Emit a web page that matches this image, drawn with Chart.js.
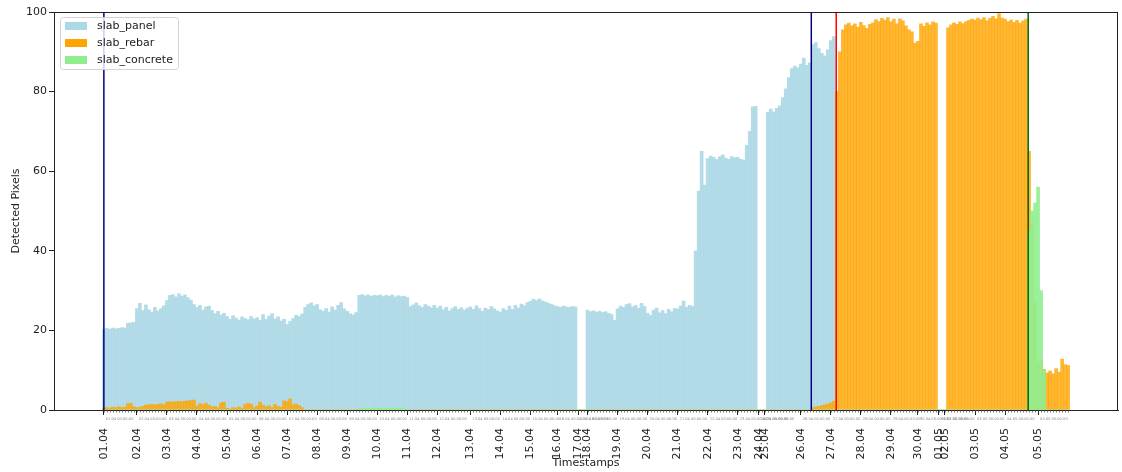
<!DOCTYPE html>
<html>
<head>
<meta charset="utf-8">
<script src="https://cdn.jsdelivr.net/npm/chart.js@4.4.1/dist/chart.umd.min.js"></script>
<style>
  html, body { margin: 0; padding: 0; background: #fff; }
  canvas { display: block; }
</style>
</head>
<body>
<canvas id="slab-chart" width="1122" height="472"></canvas>
<script>
// one label per day, and how many timestamps fall on that day
const dayLabels = ['01.04', '02.04', '03.04', '04.04', '05.04', '06.04', '07.04', '08.04', '09.04', '10.04',
  '11.04', '12.04', '13.04', '14.04', '15.04', '16.04', '17.04', '18.04', '19.04', '20.04',
  '21.04', '22.04', '23.04', '24.04', '25.04', '26.04', '27.04', '28.04', '29.04', '30.04',
  '01.05', '02.05', '03.05', '04.05', '05.05'];
const dayCounts = [11, 10, 10, 10, 10, 10, 10, 10, 10, 10,
  10, 11, 10, 10, 9, 7, 3, 10, 10, 10,
  10, 10, 7, 2, 12, 10, 10, 10, 9, 7,
  2, 10, 10, 11, 11];

// detected pixels per timestamp
const slabPanel = [
  20.2, 20.5, 20.3, 20.6, 20.4, 20.5, 20.7, 20.6, 21.8, 21.9, 22.0,   // 01.04
  25.5, 26.8, 25.0, 26.4, 25.2, 24.6, 25.8, 24.9, 25.5, 26.2,         // 02.04
  27.5, 28.8, 29.0, 28.4, 29.2, 28.6, 28.9, 28.2, 27.6, 26.5,         // 03.04
  25.8, 26.3, 25.1, 25.9, 26.1, 25.0, 24.2, 24.8, 23.9, 24.3,         // 04.04
  23.5, 22.8, 23.7, 23.1, 22.6, 23.4, 23.0, 22.7, 23.5, 22.9,         // 05.04
  23.2, 22.5, 24.0, 22.8, 23.6, 24.2, 22.9, 23.4, 22.4, 22.8,         // 06.04
  21.5, 22.3, 23.0, 23.8, 23.5, 24.1, 25.8, 26.5, 26.9, 26.2,         // 07.04
  26.5, 25.2, 24.8, 25.5, 24.6, 25.9, 25.1, 26.3, 27.0, 25.4,         // 08.04
  24.8, 24.2, 23.9, 24.5, 28.8, 29.0, 28.7, 28.9, 28.6, 28.8,         // 09.04
  28.7, 28.9, 28.5, 28.8, 28.6, 28.9, 28.4, 28.7, 28.5, 28.6,         // 10.04
  28.3, 26.0, 26.4, 26.9, 26.2, 25.8, 26.5, 26.1, 25.7, 26.3,         // 11.04
  25.6, 26.1, 25.2, 25.8, 24.9, 25.5, 26.0, 25.3, 25.7, 25.1, 25.6,   // 12.04
  25.9, 25.3, 26.2, 25.5, 24.8, 25.6, 25.2, 26.0, 25.4, 24.9,         // 13.04
  24.6, 25.5, 25.0, 26.1, 25.3, 26.3, 25.6, 26.6, 26.2, 27.0,         // 14.04
  27.3, 27.8, 27.5, 27.9, 27.4, 27.1, 26.8, 26.5, 26.2,               // 15.04
  26.0, 25.8, 26.1, 25.9, 25.8, 26.0, 25.9,                           // 16.04
  0, 0, 0,                                                            // 17.04
  25.1, 24.7, 24.9, 24.6, 24.8, 24.5, 24.7, 24.3, 24.0, 22.5,         // 18.04
  25.4, 26.1, 25.8, 26.5, 26.7, 25.9, 26.3, 25.6, 26.8, 26.0,         // 19.04
  24.3, 23.8, 25.1, 25.6, 24.4, 25.0, 24.2, 25.3, 24.7, 25.5,         // 20.04
  25.4, 26.1, 27.4, 25.8, 26.3, 26.0, 40.0, 55.0, 65.0, 56.5,         // 21.04
  63.2, 63.8, 63.5, 62.9, 63.6, 64.1, 63.3, 63.0, 63.7, 63.4,         // 22.04
  63.5, 63.0, 62.8, 66.5, 70.0, 76.2, 76.3,                           // 23.04
  0, 0,                                                               // 24.04
  0, 74.8, 75.6, 74.9, 75.8, 76.4, 78.5, 80.7, 83.5, 85.8, 86.4, 86.0, // 25.04
  86.9, 88.4, 86.6, 87.2, 91.8, 92.3, 90.8, 89.6, 89.0, 90.5,         // 26.04
  92.8, 93.8, 0, 0, 0, 0, 0, 0, 0, 0,                                 // 27.04
  0, 0, 0, 0, 0, 0, 0, 0, 0, 0,                                       // 28.04
  0, 0, 0, 0, 0, 0, 0, 0, 0,                                          // 29.04
  0, 0, 0, 0, 0, 0, 0,                                                // 30.04
  0, 0,                                                               // 01.05
  0, 0, 0, 0, 0, 0, 0, 0, 0, 0,                                       // 02.05
  0, 0, 0, 0, 0, 0, 0, 0, 0, 0,                                       // 03.05
  0, 0, 0, 0, 0, 0, 0, 0, 0, 0, 0,                                    // 04.05
  0, 0, 0, 0, 0, 0, 0, 0, 0, 0, 0                                     // 05.05
];

const slabRebar = [
  0.5, 0.6, 0.5, 0.7, 0.6, 0.8, 0.6, 0.7, 1.6, 1.7, 0.8,              // 01.04
  0.6, 0.7, 0.9, 1.2, 1.3, 1.4, 1.3, 1.4, 1.5, 1.3,                   // 02.04
  2.0, 2.1, 2.0, 2.1, 2.2, 2.1, 2.2, 2.3, 2.4, 2.5,                   // 03.04
  1.0, 1.6, 1.4, 1.7, 1.2, 0.8, 0.9, 0.6, 1.8, 2.0,                   // 04.04
  0.4, 0.3, 0.6, 0.5, 0.8, 0.4, 1.4, 1.7, 1.5, 0.6,                   // 05.04
  1.0, 2.0, 1.2, 0.8, 1.1, 0.6, 1.4, 0.9, 0.7, 2.3,                   // 06.04
  2.1, 2.8, 1.3, 1.5, 1.1, 0.6, 0, 0, 0, 0,                           // 07.04
  0, 0, 0, 0, 0, 0, 0, 0, 0, 0,                                       // 08.04
  0, 0, 0, 0, 0, 0, 0, 0, 0, 0,                                       // 09.04
  0, 0, 0, 0, 0, 0, 0, 0, 0, 0,                                       // 10.04
  0, 0, 0, 0, 0, 0, 0, 0, 0, 0,                                       // 11.04
  0, 0, 0, 0, 0, 0, 0, 0, 0, 0, 0,                                    // 12.04
  0, 0, 0, 0, 0, 0, 0, 0, 0, 0,                                       // 13.04
  0, 0, 0, 0, 0, 0, 0, 0, 0, 0,                                       // 14.04
  0, 0, 0, 0, 0, 0, 0, 0, 0,                                          // 15.04
  0, 0, 0, 0, 0, 0, 0,                                                // 16.04
  0, 0, 0,                                                            // 17.04
  0, 0, 0, 0, 0, 0, 0, 0, 0, 0,                                       // 18.04
  0, 0, 0, 0, 0, 0, 0, 0, 0, 0,                                       // 19.04
  0, 0, 0, 0, 0, 0, 0, 0, 0, 0,                                       // 20.04
  0, 0, 0, 0, 0, 0, 0, 0, 0, 0,                                       // 21.04
  0, 0, 0, 0, 0, 0, 0, 0, 0, 0,                                       // 22.04
  0, 0, 0, 0, 0, 0, 0,                                                // 23.04
  0, 0,                                                               // 24.04
  0, 0, 0, 0, 0, 0, 0, 0, 0, 0, 0, 0,                                 // 25.04
  0, 0, 0, 0, 0.6, 0.8, 0.9, 1.1, 1.3, 1.5,                           // 26.04
  1.8, 2.2, 80.0, 90.0, 95.5, 96.8, 97.2, 96.5, 97.0, 96.2,           // 27.04
  97.4, 96.6, 95.9, 96.9, 97.3, 98.1, 97.6, 98.4, 98.0, 98.6,         // 28.04
  97.5, 98.2, 97.0, 98.3, 97.8, 96.5, 95.5, 95.0, 92.2,               // 29.04
  92.6, 97.0, 96.4, 97.3, 96.8, 97.5, 97.2,                           // 30.04
  0, 0,                                                               // 01.05
  0, 96.0, 96.8, 97.3, 96.9, 97.5, 97.1, 97.6, 97.9, 98.2,            // 02.05
  98.0, 98.5, 98.1, 98.6, 97.8, 98.4, 98.9, 98.3, 99.6, 98.5,         // 03.05
  98.2, 97.6, 98.0, 97.4, 97.9, 97.2, 97.8, 98.2, 65.0, 47.0, 27.0,   // 04.05
  12.0, 12.5, 10.2, 9.3, 9.8, 9.1, 10.4, 9.5, 12.8, 11.4, 11.2        // 05.05
];

const slabConcrete = [
  0, 0, 0, 0, 0, 0, 0, 0, 0, 0, 0,                                    // 01.04
  0, 0, 0, 0, 0, 0, 0, 0, 0, 0,                                       // 02.04
  0, 0, 0, 0, 0, 0, 0, 0, 0, 0,                                       // 03.04
  0, 0, 0, 0, 0, 0, 0, 0, 0, 0,                                       // 04.04
  0, 0, 0, 0, 0, 0, 0, 0, 0, 0,                                       // 05.04
  0, 0, 0, 0, 0, 0, 0, 0, 0, 0,                                       // 06.04
  0, 0, 0, 0, 0, 0, 0, 0, 0, 0,                                       // 07.04
  0, 0, 0, 0, 0, 0, 0, 0, 0, 0,                                       // 08.04
  0, 0, 0, 0, 0.4, 0.4, 0.5, 0.4, 0.4, 0.5,                           // 09.04
  0.5, 0.4, 0.5, 0.4, 0.5, 0.4, 0.5, 0.5, 0.4, 0.3,                   // 10.04
  0, 0, 0, 0, 0, 0, 0, 0, 0, 0,                                       // 11.04
  0, 0, 0, 0, 0, 0, 0, 0, 0, 0, 0,                                    // 12.04
  0, 0, 0, 0, 0, 0, 0, 0, 0, 0,                                       // 13.04
  0, 0, 0, 0, 0, 0, 0, 0, 0, 0,                                       // 14.04
  0, 0, 0, 0, 0, 0, 0, 0, 0,                                          // 15.04
  0, 0, 0, 0, 0, 0, 0,                                                // 16.04
  0, 0, 0,                                                            // 17.04
  0, 0, 0, 0, 0, 0, 0, 0, 0, 0,                                       // 18.04
  0, 0, 0, 0, 0, 0, 0, 0, 0, 0,                                       // 19.04
  0, 0, 0, 0, 0, 0, 0, 0, 0, 0,                                       // 20.04
  0, 0, 0, 0, 0, 0, 0, 0, 0, 0,                                       // 21.04
  0, 0, 0, 0, 0, 0, 0, 0, 0, 0,                                       // 22.04
  0, 0, 0, 0, 0, 0, 0,                                                // 23.04
  0, 0,                                                               // 24.04
  0, 0, 0, 0, 0, 0, 0, 0, 0, 0, 0, 0,                                 // 25.04
  0, 0, 0, 0, 0, 0, 0, 0, 0, 0,                                       // 26.04
  0, 0, 0, 0, 0, 0, 0, 0, 0, 0,                                       // 27.04
  0, 0, 0, 0, 0, 0, 0, 0, 0, 0,                                       // 28.04
  0, 0, 0, 0, 0, 0, 0, 0, 0,                                          // 29.04
  0, 0, 0, 0, 0, 0, 0,                                                // 30.04
  0, 0,                                                               // 01.05
  0, 0, 0, 0, 0, 0, 0, 0, 0, 0,                                       // 02.05
  0, 0, 0, 0, 0, 0, 0, 0, 0, 0,                                       // 03.05
  0, 0, 0, 0, 0, 0, 0, 0, 45.0, 50.0, 52.0,                           // 04.05
  56.0, 30.0, 10.0, 0, 0, 0, 0, 0, 0, 0, 0                            // 05.05
];

// phase markers (timestamp index, line colour)
const phaseMarkers = [
  { at: 0, color: '#000080' },
  { at: 235.5, color: '#000080' },
  { at: 243.8, color: '#ff0000' },
  { at: 307.7, color: '#006400' }
];

const N = slabPanel.length;
if (slabRebar.length !== N || slabConcrete.length !== N ||
    dayCounts.reduce((s, c) => s + c, 0) !== N) {
  throw new Error('series length mismatch');
}

const dayStarts = [];
dayCounts.reduce((pos, c) => { dayStarts.push(pos); return pos + c; }, 0);

Chart.defaults.font.family = "'DejaVu Sans', sans-serif";
Chart.defaults.font.size = 11;
Chart.defaults.color = '#222';

// axes frame, tick marks, tiny timestamp labels, marker lines and legend box
const decorations = {
  id: 'decorations',
  afterDatasetsDraw(chart) {
    const { ctx, chartArea: a, scales: { x } } = chart;
    ctx.save();
    ctx.lineWidth = 1.5;
    phaseMarkers.forEach(m => {
      const px = x.getPixelForValue(m.at);
      ctx.strokeStyle = m.color;
      ctx.beginPath();
      ctx.moveTo(px, a.top);
      ctx.lineTo(px, a.bottom);
      ctx.stroke();
    });
    ctx.restore();
  },
  afterDraw(chart) {
    const { ctx, chartArea: a, scales: { x } } = chart;
    ctx.save();
    // top and right spines
    ctx.strokeStyle = '#222';
    ctx.lineWidth = 1;
    ctx.strokeRect(a.left + 0.5, a.top + 0.5, a.right - a.left - 1, a.bottom - a.top);

    // minor ticks, one per timestamp
    ctx.lineWidth = 0.7;
    ctx.strokeStyle = '#444';
    ctx.beginPath();
    for (let i = 0; i < N; i++) {
      const px = Math.round(x.getPixelForValue(i)) + 0.5;
      ctx.moveTo(px, a.bottom);
      ctx.lineTo(px, a.bottom + 2.5);
    }
    ctx.stroke();

    // tiny timestamp labels under each day
    ctx.font = "3.6px 'DejaVu Sans'";
    ctx.fillStyle = '#8a8a8a';
    ctx.textBaseline = 'middle';
    ctx.textAlign = 'left';
    dayStarts.forEach((s, d) => {
      const px = x.getPixelForValue(s);
      ctx.fillText(dayLabels[d] + ' 00:00:00', px + 2, a.bottom + 9);
    });

    // legend
    const lx = 60.5, ly = 17.5, lw = 118, lh = 52;
    ctx.beginPath();
    ctx.roundRect(lx, ly, lw, lh, 3);
    ctx.fillStyle = 'rgba(255,255,255,0.8)';
    ctx.fill();
    ctx.strokeStyle = '#d4d4d4';
    ctx.lineWidth = 1;
    ctx.stroke();
    ctx.font = "11px 'DejaVu Sans'";
    ctx.textBaseline = 'middle';
    chart.data.datasets.forEach((ds, k) => {
      const cy = 26 + k * 17;
      ctx.fillStyle = ds.legendColor;
      ctx.fillRect(65, cy - 4, 22, 8);
      ctx.fillStyle = '#222';
      ctx.fillText(ds.label, 97, cy);
    });
    ctx.restore();
  }
};

const margin = 0.05 * N;

new Chart(document.getElementById('slab-chart'), {
  type: 'bar',
  data: {
    labels: slabPanel.map((_, i) => i),
    datasets: [
      { label: 'slab_panel', data: slabPanel, backgroundColor: 'rgba(173,216,230,0.92)', legendColor: '#ADD8E6', order: 3 },
      { label: 'slab_rebar', data: slabRebar, backgroundColor: 'rgba(255,165,0,0.8)', legendColor: '#FFA500', order: 2 },
      { label: 'slab_concrete', data: slabConcrete, backgroundColor: 'rgba(144,238,144,0.9)', legendColor: '#90EE90', order: 1 }
    ]
  },
  options: {
    responsive: false,
    animation: false,
    devicePixelRatio: 1,
    layout: { padding: { top: 12, right: 4, left: 1, bottom: 0 } },
    datasets: {
      bar: { grouped: false, categoryPercentage: 1, barPercentage: 1, borderWidth: 0 }
    },
    plugins: {
      legend: { display: false },
      tooltip: { enabled: false }
    },
    scales: {
      x: {
        type: 'linear',
        offset: false,
        min: -0.5 - margin,
        max: N - 0.5 + margin,
        afterBuildTicks: (scale) => { scale.ticks = dayStarts.map(v => ({ value: v })); },
        afterFit: (scale) => { scale.height = 62; },
        ticks: {
          autoSkip: false,
          minRotation: 90,
          maxRotation: 90,
          padding: 13,
          color: '#222',
          callback: (v) => dayLabels[dayStarts.indexOf(v)]
        },
        grid: { drawOnChartArea: false, offset: false, tickLength: 5, tickColor: '#222' },
        border: { color: '#222' },
        title: { display: true, text: 'Timestamps', color: '#222', padding: { top: 0, bottom: 2 } }
      },
      y: {
        min: 0,
        max: 100,
        afterFit: (scale) => { scale.width = 53; },
        ticks: { stepSize: 20, padding: 2, color: '#222' },
        grid: { drawOnChartArea: false, tickLength: 5, tickColor: '#222' },
        border: { color: '#222' },
        title: { display: true, text: 'Detected Pixels', color: '#222', padding: { top: 9, bottom: 0 } }
      }
    }
  },
  plugins: [decorations]
});
</script>
</body>
</html>
